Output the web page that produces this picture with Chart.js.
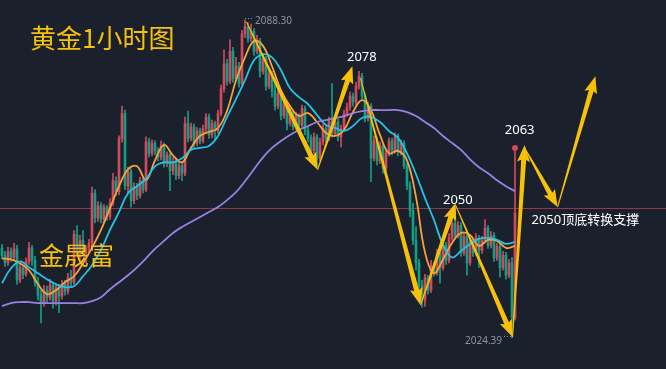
<!DOCTYPE html>
<html>
<head>
<meta charset="utf-8">
<script src="https://cdn.jsdelivr.net/npm/chart.js@4"></script>
<style>
  html, body { margin: 0; padding: 0; background: #1a202c; }
  #wrap { width: 666px; height: 369px; }
</style>
</head>
<body>
<div id="wrap"><canvas id="chartGold" width="666" height="369"></canvas></div>
<script>
// 1h gold candles (index = hour bar)
const opens = [
  2042.5, 2041.0, 2039.5, 2041.8, 2040.6, 2042.3, 2036.0, 2038.5, 2037.2, 2039.8,
  2042.5, 2040.0, 2035.5, 2033.0, 2031.5, 2034.0, 2032.5, 2035.0, 2031.8, 2034.5,
  2032.8, 2035.2, 2033.8, 2036.5, 2035.6, 2045.2, 2042.0, 2044.0, 2041.5, 2042.6,
  2043.5, 2053.5, 2048.5, 2051.0, 2048.3, 2050.6, 2048.8, 2051.5, 2056.0, 2053.8,
  2064.5, 2069.5, 2055.0, 2057.8, 2052.0, 2054.8, 2053.0, 2056.0, 2054.2, 2063.8,
  2061.5, 2063.5, 2062.0, 2060.8, 2063.0, 2059.5, 2061.2, 2058.0, 2059.8, 2057.0,
  2059.0, 2057.5, 2067.5, 2064.5, 2066.8, 2063.5, 2066.0, 2064.0, 2066.5, 2068.8,
  2065.2, 2067.5, 2066.0, 2069.5, 2074.5, 2079.5, 2076.0, 2082.0, 2076.5, 2079.0,
  2075.5, 2085.5, 2087.0, 2084.5, 2086.0, 2082.0, 2084.0, 2078.0, 2080.5, 2075.0,
  2077.5, 2074.0, 2071.0, 2073.5, 2069.0, 2071.5, 2067.5, 2069.8, 2066.8, 2069.0,
  2067.2, 2070.5, 2066.0, 2064.5, 2062.0, 2064.8, 2060.5, 2063.8, 2066.5, 2064.5,
  2068.0, 2065.5, 2067.8, 2064.8, 2066.5, 2069.5, 2070.8, 2073.0, 2071.8, 2075.0,
  2077.0, 2073.0, 2068.5, 2071.0, 2060.5, 2064.0, 2060.0, 2063.0, 2058.5, 2061.5,
  2064.0, 2062.0, 2065.0, 2061.8, 2063.5, 2059.0, 2055.0, 2050.0, 2044.0, 2039.5,
  2035.0, 2032.0, 2036.5, 2034.0, 2039.0, 2037.5, 2041.5, 2038.5, 2043.0, 2040.0,
  2044.5, 2047.5, 2045.0, 2047.0, 2041.5, 2044.8, 2039.5, 2043.8, 2041.5, 2044.5,
  2042.0, 2044.0, 2046.5, 2043.0, 2045.0, 2040.5, 2042.8, 2038.5, 2041.0, 2037.0,
  2039.5, 2028.5
];
const highs = [
  2043.2, 2041.8, 2042.6, 2042.5, 2043.4, 2043.0, 2039.2, 2039.0, 2040.5, 2043.6,
  2043.0, 2040.8, 2036.6, 2034.0, 2035.0, 2034.8, 2036.2, 2035.6, 2035.3, 2035.2,
  2036.0, 2036.0, 2037.4, 2038.0, 2046.0, 2047.0, 2045.0, 2046.0, 2043.0, 2044.2,
  2054.7, 2054.2, 2051.8, 2051.6, 2051.2, 2051.0, 2052.4, 2057.5, 2056.8, 2065.0,
  2071.0, 2070.2, 2058.7, 2058.4, 2055.6, 2055.5, 2056.7, 2056.5, 2064.8, 2064.5,
  2064.2, 2064.0, 2062.6, 2064.0, 2063.6, 2061.8, 2061.6, 2060.7, 2060.4, 2059.6,
  2059.5, 2068.8, 2070.0, 2067.6, 2067.4, 2066.7, 2066.6, 2067.2, 2069.5, 2069.4,
  2068.2, 2068.0, 2070.2, 2075.2, 2082.3, 2080.4, 2084.3, 2082.8, 2080.8, 2079.8,
  2086.2, 2088.3, 2087.8, 2087.5, 2086.6, 2085.2, 2084.6, 2081.6, 2081.0, 2078.4,
  2078.0, 2076.8, 2074.4, 2074.0, 2072.2, 2072.0, 2070.8, 2070.3, 2069.8, 2069.5,
  2071.2, 2071.0, 2066.8, 2065.2, 2065.6, 2065.3, 2064.5, 2067.3, 2067.0, 2068.8,
  2075.5, 2068.6, 2068.4, 2067.2, 2070.2, 2071.6, 2073.8, 2073.6, 2075.8, 2078.0,
  2077.6, 2073.6, 2071.8, 2071.5, 2065.0, 2064.6, 2063.8, 2063.5, 2062.2, 2064.6,
  2064.5, 2065.6, 2065.4, 2064.2, 2064.0, 2059.6, 2055.8, 2051.5, 2046.8, 2040.2,
  2036.0, 2037.2, 2037.0, 2040.0, 2039.6, 2042.2, 2042.0, 2043.8, 2043.6, 2045.4,
  2048.4, 2050.2, 2047.8, 2047.6, 2045.4, 2045.4, 2044.4, 2044.4, 2045.4, 2045.0,
  2044.8, 2048.2, 2047.0, 2045.8, 2045.6, 2043.4, 2043.4, 2041.8, 2041.6, 2040.2,
  2040.6, 2062.6
];
const lows = [
  2040.3, 2038.8, 2039.0, 2039.8, 2040.0, 2035.2, 2035.5, 2036.3, 2036.8, 2039.2,
  2039.0, 2034.8, 2032.0, 2027.4, 2030.8, 2031.6, 2032.0, 2030.4, 2031.0, 2029.5,
  2032.2, 2033.0, 2033.2, 2034.8, 2035.2, 2041.0, 2040.2, 2041.0, 2039.5, 2041.5,
  2043.0, 2047.5, 2047.8, 2047.5, 2047.6, 2048.0, 2048.2, 2051.0, 2053.0, 2053.2,
  2063.8, 2054.2, 2053.5, 2050.7, 2051.4, 2052.2, 2052.5, 2053.5, 2053.8, 2060.8,
  2061.0, 2061.2, 2060.0, 2060.2, 2058.7, 2058.8, 2054.0, 2057.2, 2056.2, 2056.4,
  2056.0, 2057.0, 2063.8, 2064.0, 2062.6, 2063.0, 2063.4, 2063.6, 2065.8, 2064.5,
  2064.6, 2064.2, 2065.5, 2069.0, 2073.8, 2075.2, 2075.5, 2075.8, 2076.0, 2074.8,
  2075.0, 2084.8, 2083.8, 2084.0, 2081.2, 2081.5, 2076.8, 2077.4, 2074.2, 2074.5,
  2072.8, 2070.2, 2070.5, 2068.2, 2068.5, 2066.2, 2067.0, 2066.2, 2066.3, 2066.5,
  2066.8, 2065.2, 2063.8, 2061.2, 2061.5, 2058.8, 2060.0, 2063.2, 2063.8, 2064.0,
  2064.8, 2065.0, 2064.0, 2062.8, 2066.0, 2069.0, 2070.2, 2071.0, 2071.2, 2074.4,
  2072.2, 2067.8, 2068.0, 2055.8, 2060.0, 2059.2, 2059.5, 2057.5, 2058.0, 2061.0,
  2061.2, 2061.5, 2061.0, 2061.2, 2058.4, 2054.2, 2048.7, 2043.2, 2038.0, 2034.2,
  2030.6, 2030.8, 2033.2, 2033.5, 2036.8, 2037.0, 2035.4, 2038.0, 2039.2, 2039.5,
  2044.0, 2044.2, 2044.5, 2040.8, 2041.0, 2037.0, 2039.0, 2040.8, 2041.0, 2038.6,
  2041.4, 2043.5, 2042.4, 2042.5, 2039.8, 2040.0, 2036.6, 2038.0, 2036.2, 2036.5,
  2024.39, 2028.0
];
const closes = [
  2041.0, 2039.5, 2041.8, 2040.6, 2042.3, 2036.0, 2038.5, 2037.2, 2039.8, 2042.5,
  2040.0, 2035.5, 2033.0, 2031.5, 2034.0, 2032.5, 2035.0, 2031.8, 2034.5, 2032.8,
  2035.2, 2033.8, 2036.5, 2035.6, 2045.2, 2042.0, 2044.0, 2041.5, 2042.6, 2043.5,
  2053.5, 2048.5, 2051.0, 2048.3, 2050.6, 2048.8, 2051.5, 2056.0, 2053.8, 2064.5,
  2069.5, 2055.0, 2057.8, 2052.0, 2054.8, 2053.0, 2056.0, 2054.2, 2063.8, 2061.5,
  2063.5, 2062.0, 2060.8, 2063.0, 2059.5, 2061.2, 2058.0, 2059.8, 2057.0, 2059.0,
  2057.5, 2067.5, 2064.5, 2066.8, 2063.5, 2066.0, 2064.0, 2066.5, 2068.8, 2065.2,
  2067.5, 2066.0, 2069.5, 2074.5, 2079.5, 2076.0, 2082.0, 2076.5, 2079.0, 2075.5,
  2085.5, 2087.0, 2084.5, 2086.0, 2082.0, 2084.0, 2078.0, 2080.5, 2075.0, 2077.5,
  2074.0, 2071.0, 2073.5, 2069.0, 2071.5, 2067.5, 2069.8, 2066.8, 2069.0, 2067.2,
  2070.5, 2066.0, 2064.5, 2062.0, 2064.8, 2060.5, 2063.8, 2066.5, 2064.5, 2068.0,
  2065.5, 2067.8, 2064.8, 2066.5, 2069.5, 2070.8, 2073.0, 2071.8, 2075.0, 2077.0,
  2073.0, 2068.5, 2071.0, 2060.5, 2064.0, 2060.0, 2063.0, 2058.5, 2061.5, 2064.0,
  2062.0, 2065.0, 2061.8, 2063.5, 2059.0, 2055.0, 2050.0, 2044.0, 2039.5, 2035.0,
  2032.0, 2036.5, 2034.0, 2039.0, 2037.5, 2041.5, 2038.5, 2043.0, 2040.0, 2044.5,
  2047.5, 2045.0, 2047.0, 2041.5, 2044.8, 2039.5, 2043.8, 2041.5, 2044.5, 2042.0,
  2044.0, 2046.5, 2043.0, 2045.0, 2040.5, 2042.8, 2038.5, 2041.0, 2037.0, 2039.5,
  2028.5, 2049.5
];

// moving averages, read every 3 bars
const MA_STEP = 3;
const maFast = [
  2040.4, 2040.2, 2039.4, 2038.0, 2035.2, 2033.2, 2034.0, 2035.6, 2036.8, 2039.4,
  2042.5, 2046.1, 2050.5, 2054.9, 2058.3, 2058.9, 2056.1, 2060.1, 2063.2, 2061.1,
  2059.7, 2062.6, 2065.0, 2065.8, 2066.6, 2070.0, 2076.2, 2080.8, 2084.1, 2083.1,
  2079.0, 2074.2, 2071.0, 2069.0, 2069.6, 2067.8, 2065.6, 2065.0, 2066.2, 2069.8,
  2072.2, 2070.2, 2065.2, 2061.5, 2062.0, 2060.1, 2052.7, 2041.6, 2037.4, 2040.2,
  2043.5, 2045.5, 2045.1, 2042.9, 2044.1, 2043.9, 2042.5, 2042.9
];
const maMid = [
  2035.4, 2038.4, 2039.8, 2038.6, 2037.4, 2036.2, 2035.2, 2034.6, 2034.8, 2036.8,
  2039.0, 2042.1, 2046.1, 2049.7, 2053.5, 2054.9, 2056.3, 2058.9, 2059.7, 2059.7,
  2060.5, 2062.2, 2062.6, 2063.0, 2065.0, 2068.8, 2072.4, 2076.2, 2080.2, 2081.4,
  2080.8, 2078.2, 2074.6, 2072.8, 2071.4, 2069.2, 2067.2, 2066.6, 2066.0, 2067.0,
  2068.6, 2068.8, 2067.8, 2066.0, 2064.6, 2061.5, 2057.3, 2052.5, 2048.1, 2043.1,
  2040.6, 2041.9, 2043.3, 2044.3, 2044.5, 2044.1, 2043.3, 2043.7
];
const maSlow = [
  2030.8, 2031.4, 2031.6, 2031.6, 2031.4, 2031.4, 2031.4, 2031.4, 2031.4, 2031.4,
  2031.8, 2032.6, 2034.2, 2035.6, 2037.0, 2038.6, 2040.4, 2042.3, 2043.9, 2045.5,
  2046.7, 2047.7, 2048.7, 2049.7, 2050.7, 2052.1, 2053.7, 2055.9, 2058.3, 2060.7,
  2062.6, 2064.0, 2065.2, 2066.2, 2067.0, 2067.8, 2068.2, 2068.6, 2069.0, 2069.6,
  2070.0, 2070.2, 2070.2, 2070.2, 2070.2, 2069.8, 2069.0, 2067.8, 2066.6, 2065.0,
  2063.6, 2062.2, 2060.3, 2058.7, 2057.5, 2056.1, 2054.9, 2053.9
];

// hand drawn arrows: [fromBar, fromPrice, toBar, toPrice]
const arrows = [
  [81.5, 2087.9, 105.2, 2058.2],
  [105.2, 2058.2, 116.8, 2079.0],
  [119.5, 2076.6, 139.5, 2031.0],
  [139.5, 2031.0, 151.2, 2051.5],
  [151.2, 2051.1, 170.2, 2024.6],
  [170.2, 2024.6, 174.2, 2063.2],
  [174.2, 2062.6, 185.2, 2050.7],
  [185.2, 2050.7, 197.8, 2077.0]
];
// price notes: [text, bar, price]
const notes = [
  ["2078", 115.0, 2080.9],
  ["2050", 147.0, 2052.1],
  ["2063", 167.6, 2066.2],
  ["2050顶底转换支撑", 176.5, 2048.1]
];
const supportLevel = 2050.4;
const highMark = [81, 2088.3, "2088.30"];
const lowMark = [170, 2024.39, "2024.39"];

const UP = "#d24a5b";
const DOWN = "#139f86";
const YELLOW = "#f7c10a";

const candleColors = closes.map((c, i) => (c >= opens[i] ? UP : DOWN));

const overlay = {
  id: "overlay",
  beforeDraw(chart) {
    const ctx = chart.ctx;
    ctx.save();
    ctx.fillStyle = "#1a202c";
    ctx.fillRect(0, 0, chart.width, chart.height);
    ctx.restore();
  },
  beforeDatasetsDraw(chart) {
    // 2050 support line
    const ctx = chart.ctx;
    const y = Math.floor(chart.scales.y.getPixelForValue(supportLevel));
    ctx.save();
    ctx.fillStyle = "#8e3b47";
    ctx.fillRect(0, y, chart.width, 1);
    ctx.restore();
  },
  afterDatasetsDraw(chart) {
    const ctx = chart.ctx;
    const sx = chart.scales.x, sy = chart.scales.y;
    ctx.save();

    // arrows
    ctx.fillStyle = YELLOW;
    arrows.forEach(function (a) {
      const x1 = sx.getPixelForValue(a[0]), y1 = sy.getPixelForValue(a[1]);
      const x2 = sx.getPixelForValue(a[2]), y2 = sy.getPixelForValue(a[3]);
      const dx = x2 - x1, dy = y2 - y1;
      const len = Math.hypot(dx, dy);
      const ux = dx / len, uy = dy / len;
      const nx = -uy, ny = ux;
      const headLen = 15, headW = 6.5, neckW = 2.5, tailW = 0.5;
      const bx = x2 - ux * headLen, by = y2 - uy * headLen;
      const wx = bx - ux * 2, wy = by - uy * 2;
      ctx.beginPath();
      ctx.moveTo(x1 + nx * tailW, y1 + ny * tailW);
      ctx.lineTo(bx + nx * neckW, by + ny * neckW);
      ctx.lineTo(wx + nx * headW, wy + ny * headW);
      ctx.lineTo(x2, y2);
      ctx.lineTo(wx - nx * headW, wy - ny * headW);
      ctx.lineTo(bx - nx * neckW, by - ny * neckW);
      ctx.lineTo(x1 - nx * tailW, y1 - ny * tailW);
      ctx.closePath();
      ctx.fill();
    });

    // red dot on the last bar high
    const last = closes.length - 1;
    ctx.fillStyle = UP;
    ctx.beginPath();
    ctx.arc(sx.getPixelForValue(last), sy.getPixelForValue(highs[last]), 3, 0, Math.PI * 2);
    ctx.fill();

    // price notes
    ctx.fillStyle = "#ffffff";
    ctx.textBaseline = "middle";
    ctx.textAlign = "left";
    ctx.font = '13px "Noto Sans", "Noto Sans CJK SC", sans-serif';
    notes.forEach(function (n) {
      ctx.fillText(n[0], sx.getPixelForValue(n[1]), sy.getPixelForValue(n[2]));
    });

    // high / low marks
    ctx.fillStyle = "#8d939e";
    ctx.strokeStyle = "#8d939e";
    ctx.font = '10px "Noto Sans", sans-serif';
    const hx = sx.getPixelForValue(highMark[0]), hy = sy.getPixelForValue(highMark[1]);
    ctx.setLineDash([1, 2]);
    ctx.beginPath();
    ctx.moveTo(hx, hy - 1.5);
    ctx.lineTo(hx + 8, hy - 1.5);
    ctx.stroke();
    ctx.fillText(highMark[2], hx + 10, hy + 1);
    const lx = sx.getPixelForValue(lowMark[0]), ly = sy.getPixelForValue(lowMark[1]);
    ctx.beginPath();
    ctx.moveTo(lx - 8, ly - 1.5);
    ctx.lineTo(lx, ly - 1.5);
    ctx.stroke();
    ctx.setLineDash([]);
    ctx.textAlign = "right";
    ctx.fillText(lowMark[2], lx - 10, ly + 3);

    // titles
    ctx.textAlign = "left";
    ctx.fillStyle = YELLOW;
    ctx.font = '26px "Noto Sans CJK SC", sans-serif';
    ctx.fillText("黄金1小时图", 30, 38);
    ctx.font = '25px "Noto Sans CJK SC", sans-serif';
    ctx.fillText("金晟富", 39, 255);
    ctx.restore();
  }
};

function maLine(values, color) {
  return {
    type: "line",
    data: values.map(function (v, k) { return { x: k * MA_STEP, y: v }; }),
    borderColor: color,
    borderWidth: 1.8,
    pointRadius: 0,
    tension: 0.4,
    order: 1
  };
}

const ctx = document.getElementById("chartGold").getContext("2d");
const chartGold = new Chart(ctx, {
  type: "bar",
  data: {
    datasets: [
      {
        label: "wick",
        data: closes.map(function (c, i) { return { x: i, y: [lows[i], highs[i]] }; }),
        backgroundColor: candleColors,
        barThickness: 1,
        grouped: false,
        order: 3
      },
      {
        label: "body",
        data: closes.map(function (c, i) { return { x: i, y: [opens[i], c] }; }),
        backgroundColor: candleColors,
        barThickness: 2,
        grouped: false,
        order: 2
      },
      maLine(maSlow, "#9b80e4"),
      maLine(maMid, "#25c2e3"),
      maLine(maFast, "#f7a23c")
    ]
  },
  options: {
    responsive: false,
    devicePixelRatio: 1,
    animation: false,
    layout: { padding: 0 },
    plugins: { legend: { display: false }, tooltip: { enabled: false } },
    scales: {
      x: { type: "linear", min: -2 / 3, max: 221 + 1 / 3, offset: false, display: false },
      y: { min: 2018.16, max: 2092.32, beginAtZero: false, display: false }
    }
  },
  plugins: [overlay]
});
</script>
</body>
</html>
